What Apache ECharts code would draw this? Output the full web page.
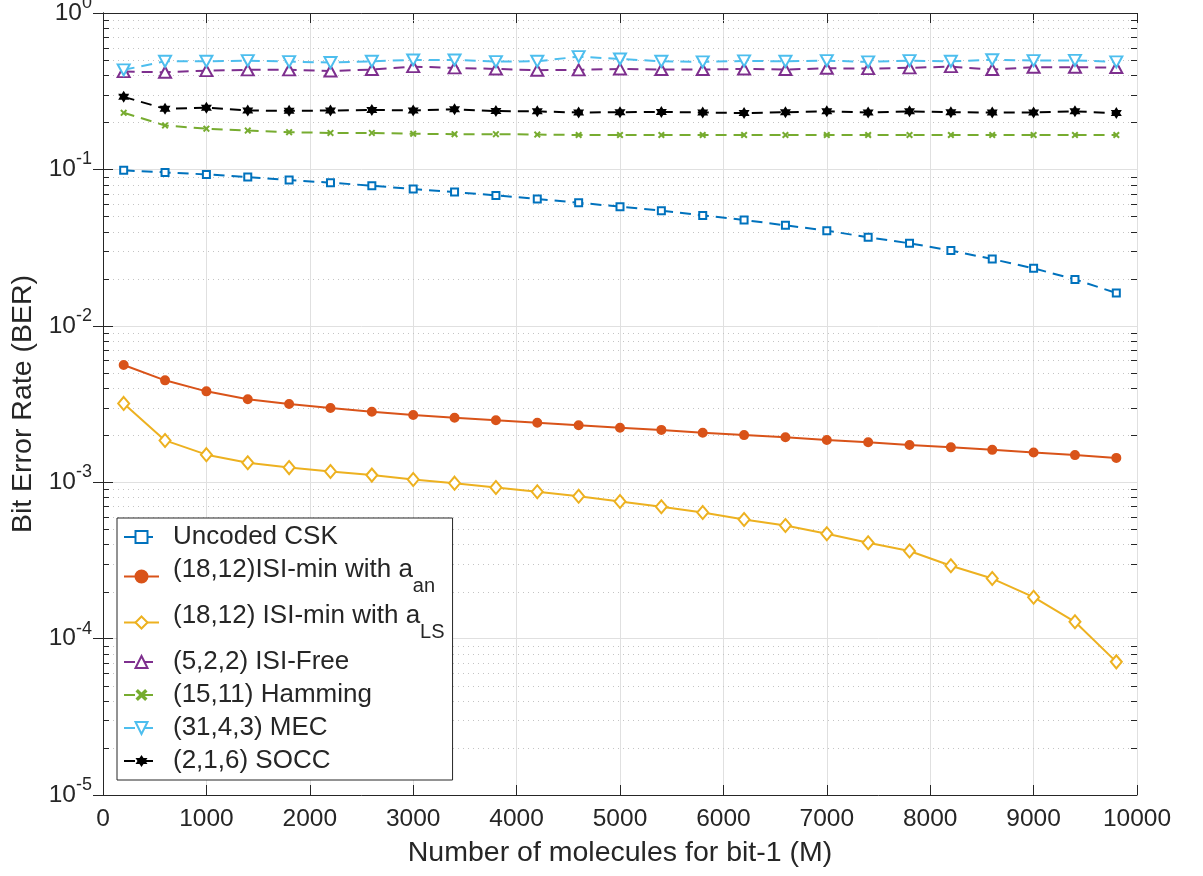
<!DOCTYPE html>
<html>
<head>
<meta charset="utf-8">
<script src="https://cdn.jsdelivr.net/npm/echarts@6/dist/echarts.min.js"></script>
<style>
html,body{margin:0;padding:0;background:#fff;}
#main{width:1203px;height:876px;}
</style>
</head>
<body>
<div id="main"></div>
<script>
// ---- data ----
const xValues = [200,600,1000,1400,1800,2200,2600,3000,3400,3800,4200,4600,5000,5400,5800,6200,6600,7000,7400,7800,8200,8600,9000,9400,9800];
const uncodedCSK = [0.0986,0.0957,0.0929,0.0893,0.0855,0.0822,0.0787,0.0749,0.0716,0.0682,0.0647,0.0612,0.0578,0.0545,0.0508,0.0475,0.0439,0.0406,0.0368,0.0337,0.0303,0.0267,0.0233,0.0198,0.0162];
const isiMinAn = [0.00561,0.00448,0.00381,0.00339,0.00316,0.00298,0.00282,0.00269,0.00258,0.00249,0.00240,0.00231,0.00223,0.00216,0.00207,0.00200,0.00194,0.00186,0.00180,0.00173,0.00167,0.00161,0.00155,0.00149,0.00143];
const isiMinLS = [0.00319,0.00185,0.00150,0.00133,0.00124,0.00117,0.00111,0.00104,0.000986,0.000925,0.000868,0.000814,0.000753,0.000696,0.000640,0.000578,0.000529,0.000468,0.000410,0.000363,0.000292,0.000242,0.000184,0.000128,0.0000710];
const isiFree = [0.422,0.418,0.428,0.433,0.433,0.426,0.435,0.454,0.446,0.439,0.431,0.433,0.439,0.435,0.435,0.439,0.435,0.443,0.441,0.446,0.454,0.435,0.450,0.450,0.448];
const hamming = [0.230,0.191,0.182,0.177,0.173,0.171,0.171,0.169,0.168,0.168,0.167,0.166,0.166,0.166,0.166,0.166,0.166,0.166,0.166,0.166,0.166,0.166,0.166,0.166,0.166];
const mec = [0.433,0.491,0.491,0.496,0.489,0.482,0.491,0.501,0.501,0.489,0.491,0.526,0.508,0.491,0.487,0.494,0.491,0.496,0.487,0.496,0.491,0.503,0.496,0.498,0.487];
const socc = [0.291,0.244,0.248,0.238,0.237,0.238,0.240,0.238,0.242,0.236,0.235,0.231,0.232,0.233,0.231,0.229,0.232,0.235,0.231,0.235,0.232,0.231,0.231,0.235,0.229];
const seriesNames = ['Uncoded CSK','(18,12)ISI-min with a_an','(18,12) ISI-min with a_LS','(5,2,2) ISI-Free','(15,11) Hamming','(31,4,3) MEC','(2,1,6) SOCC'];
const yMinorTicks = [];
[1e-5,1e-4,1e-3,1e-2,1e-1].forEach(function(d){ for (let k=2;k<=9;k++) yMinorTicks.push(+(d*k).toPrecision(3)); });

// ---- chart ----
const FONT = '"Liberation Sans", Arial, Helvetica, sans-serif';
const TXT = '#262626';
const chart = echarts.init(document.getElementById('main'), null, {renderer:'canvas'});
function pairs(ys){ return xValues.map(function(x,i){ return [x, ys[i]]; }); }
const hexPath = 'path://M0,-10L2.89,-5L8.66,-5L5.77,0L8.66,5L2.89,5L0,10L-2.89,5L-8.66,5L-5.77,0L-8.66,-5L-2.89,-5Z';
const crossPath = 'path://M0,2L2,0L5,3L8,0L10,2L7,5L10,8L8,10L5,7L2,10L0,8L3,5Z';
const DASH = [11,7];
function lineSeries(name, data, color, dashed, symbol, size, extra){
  return Object.assign({
    name: name, type:'line', data: pairs(data), z: 3,
    symbol: symbol, symbolSize: size,
    lineStyle: {color: color, width: 2, type: dashed ? DASH : 'solid'},
    itemStyle: {color: color, borderColor: color, borderWidth: 2},
    emphasis: {disabled: true}
  }, extra || {});
}
const option = {
  animation: false,
  backgroundColor: '#fff',
  textStyle: {fontFamily: FONT, color: TXT},
  grid: {left: 103, right: 66, top: 13, bottom: 81, containLabel: false, outerBoundsMode: 'none'},
  xAxis: [{
    type: 'value', min: 0, max: 10000, interval: 1000, position: 'bottom',
    name: 'Number of molecules for bit-1 (M)', nameLocation: 'middle', nameGap: 44,
    nameTextStyle: {fontSize: 28.5, color: TXT, fontFamily: FONT},
    axisLine: {show: true, lineStyle: {color: TXT, width: 1}},
    axisTick: {show: true, inside: true, length: 10, lineStyle: {color: TXT}},
    axisLabel: {fontSize: 24.5, color: TXT, margin: 12, fontFamily: FONT,
      formatter: function(v){ return String(v); }},
    splitLine: {show: true, lineStyle: {color: '#e0e0e0', width: 1}}
  },{
    type: 'value', min: 0, max: 10000, interval: 1000, position: 'top',
    axisLine: {show: true, lineStyle: {color: TXT, width: 1}},
    axisTick: {show: true, inside: true, length: 10, lineStyle: {color: TXT}},
    axisLabel: {show: false}, splitLine: {show: false}
  }],
  yAxis: [{
    type: 'log', logBase: 10, min: 1e-5, max: 1, position: 'left',
    name: 'Bit Error Rate (BER)', nameLocation: 'middle', nameGap: 61, nameRotate: 90,
    nameTextStyle: {fontSize: 28.5, color: TXT, fontFamily: FONT},
    axisLine: {show: true, lineStyle: {color: TXT, width: 1}},
    axisTick: {show: true, inside: true, length: 10, lineStyle: {color: TXT}},
    axisLabel: {
      margin: 11, color: TXT, fontFamily: FONT,
      formatter: function(v){ const e = Math.round(Math.log10(v)); return '{b|10}{s|' + e + '}'; },
      rich: {
        b: {fontSize: 24.5, color: TXT, fontFamily: FONT, verticalAlign: 'middle'},
        s: {fontSize: 18, color: TXT, fontFamily: FONT, verticalAlign: 'middle', padding: [0,0,20,0], lineHeight: 26}
      }
    },
    splitLine: {show: true, lineStyle: {color: '#e0e0e0', width: 1}},
    minorTick: {show: false}, minorSplitLine: {show: false}
  },{
    type: 'log', logBase: 10, min: 1e-5, max: 1, position: 'right',
    axisLine: {show: true, lineStyle: {color: TXT, width: 1}},
    axisTick: {show: true, inside: true, length: 10, lineStyle: {color: TXT}},
    axisLabel: {show: false}, splitLine: {show: false}
  }],
  legend: {
    data: seriesNames,
    orient: 'vertical', left: 117, top: 518,
    backgroundColor: '#fff', borderColor: TXT, borderWidth: 1, borderRadius: 0,
    padding: [6, 8, 6, 6], itemGap: 7, itemWidth: 35, itemHeight: 15,
    selectedMode: false,
    formatter: function(name){
      if (name.indexOf('_') >= 0) {
        const parts = name.split('_');
        return '{g|}{ts|' + parts[0] + '}{sub|' + parts[1] + '}';
      }
      return '{g|}{t|' + name + '}';
    },
    textStyle: {
      fontSize: 26, color: TXT, fontFamily: FONT,
      rich: {
        g: {width: 9},
        t: {fontSize: 26, lineHeight: 26, color: TXT, fontFamily: FONT, verticalAlign: 'middle'},
        ts: {fontSize: 26, lineHeight: 30, color: TXT, fontFamily: FONT, verticalAlign: 'top'},
        sub: {fontSize: 20, lineHeight: 39, color: TXT, fontFamily: FONT, verticalAlign: 'bottom'}
      }
    }
  },
  series: [
    {
      name: 'minorGrid', type: 'custom', xAxisIndex: 0, yAxisIndex: 0, z: 1, silent: true,
      data: yMinorTicks.map(function(v){ return [0, v]; }),
      renderItem: function(params, api){
        const cs = params.coordSys;
        const y = Math.round(api.coord([0, api.value(1)])[1]) + 0.5;
        const x0 = cs.x, x1 = cs.x + cs.width;
        return {type: 'group', children: [
          {type: 'line', shape: {x1: x0, y1: y, x2: x1, y2: y}, style: {stroke: '#c4c4c4', lineWidth: 1, lineDash: [1,4]}},
          {type: 'line', shape: {x1: x0, y1: y, x2: x0 + 6, y2: y}, style: {stroke: TXT, lineWidth: 1}},
          {type: 'line', shape: {x1: x1 - 6, y1: y, x2: x1, y2: y}, style: {stroke: TXT, lineWidth: 1}}
        ]};
      }
    },
    lineSeries(seriesNames[0], uncodedCSK, '#0072BD', true, 'emptyRect', 7),
    lineSeries(seriesNames[1], isiMinAn, '#D95319', false, 'circle', 8),
    lineSeries(seriesNames[2], isiMinLS, '#EDB120', false, 'emptyDiamond', [11,13]),
    lineSeries(seriesNames[3], isiFree, '#7E2F8E', true, 'emptyTriangle', [12,11]),
    lineSeries(seriesNames[4], hamming, '#77AC30', true, crossPath, 7, {itemStyle: {color: '#77AC30', borderWidth: 0}}),
    lineSeries(seriesNames[5], mec, '#4DBEEE', true, 'emptyTriangle', [12,11], {symbolRotate: 180}),
    lineSeries(seriesNames[6], socc, '#000000', true, hexPath, [11,12], {itemStyle: {color: '#000', borderWidth: 0}})
  ]
};
chart.setOption(option);
</script>
</body>
</html>
